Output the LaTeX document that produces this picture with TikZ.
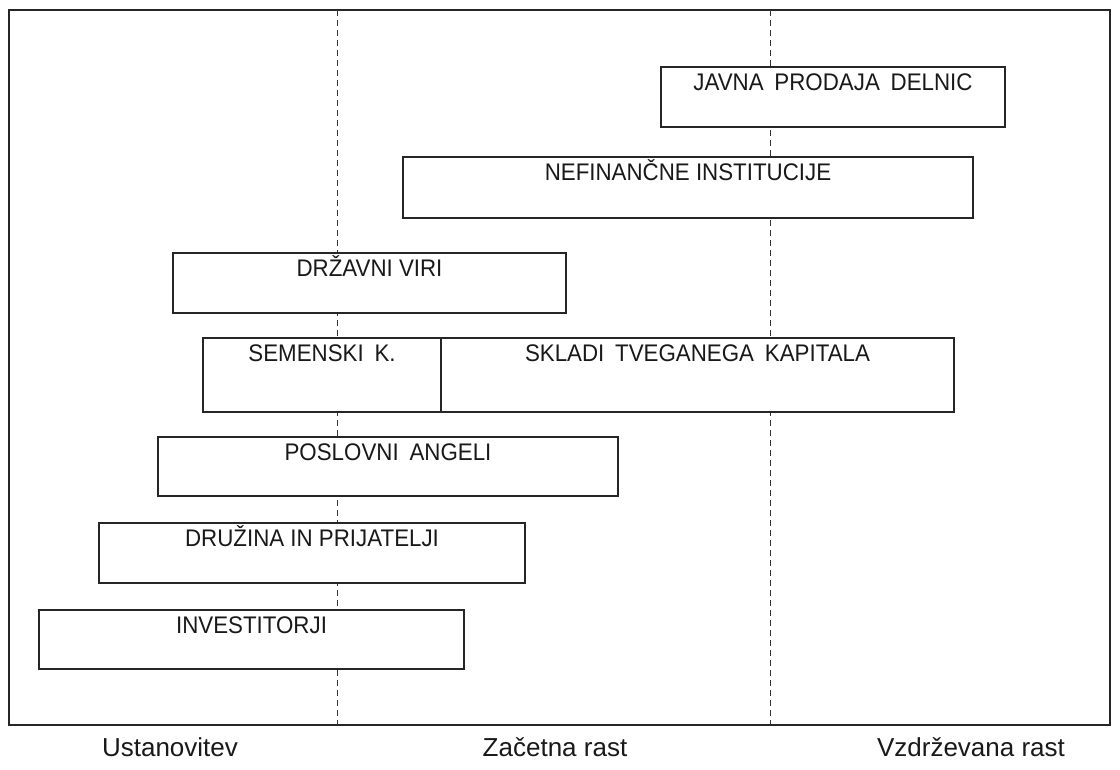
\documentclass[tikz,border=0pt]{standalone}
\usepackage{fontspec}
\setmainfont{Liberation Sans}
\newfontfamily\boxfont[FakeStretch=0.93]{Liberation Sans}
\newcommand{\wsp}{\hspace{0.45em}}
\begin{document}
\begin{tikzpicture}[x=1pt,y=-1pt,
  frame/.style={draw=black!85,line width=1.1pt,rectangle,inner sep=0pt,
    minimum width=1101pt,minimum height=715pt},
  stageline/.style={draw=black!80,line width=0.9pt,dash pattern=on 6pt off 4pt},
  fund/.style={draw=black!85,fill=white,line width=1.1pt,rectangle,inner sep=0pt},
  fundlabel/.style={font=\boxfont\fontsize{24}{24}\selectfont,anchor=base,inner sep=0pt,text=black!90},
  phase/.style={font=\fontsize{26}{26}\selectfont,anchor=base,inner sep=0pt,text=black!90}]
\useasboundingbox (0,0) rectangle (1120,769);
\fill[white] (0,0) rectangle (1120,769);

% outer frame
\node[frame] (frame) at (559.5,367.5) {};

% phase boundaries
\coordinate (d1t) at (337,10);
\coordinate (d1b) at (337,725);
\coordinate (d2t) at (770,10);
\coordinate (d2b) at (770,725);
\draw[stageline] (d1t) -- (d1b);
\draw[stageline] (d2t) -- (d2b);

% financing sources
\node[fund,minimum width=344pt,minimum height=60pt] (ipo) at (833,97) {};
\node[fund,minimum width=570pt,minimum height=61pt] (nonfin) at (688,187.5) {};
\node[fund,minimum width=393pt,minimum height=60pt] (gov) at (369.5,283) {};
\node[fund,minimum width=238pt,minimum height=74pt] (seed) at (322,375) {};
\node[fund,minimum width=513pt,minimum height=74pt] (vc) at (697.5,375) {};
\node[fund,minimum width=460pt,minimum height=59pt] (angels) at (388,466.5) {};
\node[fund,minimum width=426pt,minimum height=60pt] (family) at (312,553) {};
\node[fund,minimum width=425pt,minimum height=59pt] (inv) at (251.5,639.5) {};

\node[fundlabel] (ipoL) at ([yshift=-24pt]ipo.north) {JAVNA\wsp PRODAJA\wsp DELNIC};
\node[fundlabel] (nonfinL) at ([yshift=-24pt]nonfin.north) {NEFINANČNE INSTITUCIJE};
\node[fundlabel] (govL) at ([yshift=-24pt]gov.north) {DRŽAVNI VIRI};
\node[fundlabel] (seedL) at ([yshift=-24pt]seed.north) {SEMENSKI\wsp K.};
\node[fundlabel] (vcL) at ([yshift=-24pt]vc.north) {SKLADI\wsp TVEGANEGA\wsp KAPITALA};
\node[fundlabel] (angelsL) at ([yshift=-24pt]angels.north) {POSLOVNI\wsp ANGELI};
\node[fundlabel] (familyL) at ([yshift=-24pt]family.north) {DRUŽINA IN PRIJATELJI};
\node[fundlabel] (invL) at ([yshift=-24pt]inv.north) {INVESTITORJI};

% phase names
\node[phase] (p1) at (170,756) {Ustanovitev};
\node[phase] (p2) at (555,756) {Začetna rast};
\node[phase] (p3) at (971,756) {Vzdrževana rast};
\end{tikzpicture}
\end{document}
